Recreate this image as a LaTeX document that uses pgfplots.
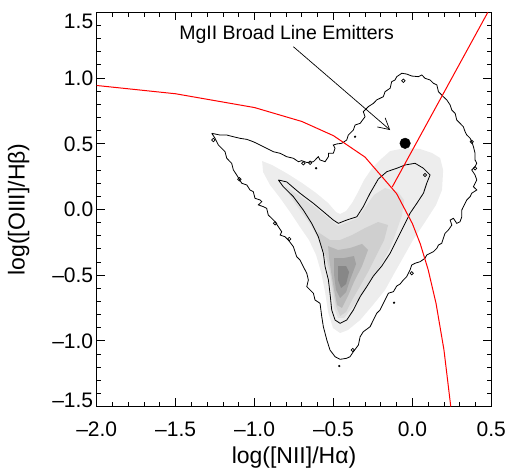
\documentclass[border=0pt]{standalone}
\usepackage{pgfplots}
\pgfplotsset{compat=1.18}
\usepackage{fontspec}
\setmainfont{Liberation Sans}
\usetikzlibrary{arrows.meta}
\definecolor{g1}{gray}{0.93}
\definecolor{g2}{gray}{0.875}
\definecolor{g3}{gray}{0.81}
\definecolor{g4}{gray}{0.72}
\definecolor{g5}{gray}{0.63}
\definecolor{g6}{gray}{0.53}
\begin{document}
\begin{tikzpicture}
\begin{axis}[
  at={(0,0)}, anchor=south west,
  scale only axis, width=394.6bp, height=394.2bp,
  xmin=-2, xmax=0.5, ymin=-1.5, ymax=1.5,
  axis line style={line width=0.9bp},
  xtick={-2,-1.5,-1,-0.5,0,0.5},
  xticklabels={–2.0,–1.5,–1.0,–0.5,0.0,0.5},
  ytick={-1.5,-1,-0.5,0,0.5,1,1.5},
  yticklabels={\raisebox{6.5bp}{–1.5},–1.0,–0.5,0.0,0.5,1.0,\raisebox{-8.4bp}{1.5}},
  minor x tick num=4, minor y tick num=4,
  tick align=inside,
  major tick length=8bp, minor tick length=4.5bp,
  every tick/.style={black, line width=0.8bp},
  ticklabel style={font=\fontsize{21bp}{25bp}\selectfont},
  xticklabel style={anchor=base, yshift=-30.2bp},
  yticklabel style={anchor=base east, yshift=-7.5bp},
  xlabel={log([NII]/Hα)}, ylabel={log([OIII]/Hβ)},
  every axis x label/.style={at={(axis description cs:0.5,-0.094)}, anchor=north, font=\fontsize{23bp}{27bp}\selectfont},
  every axis y label/.style={at={(axis description cs:-0.1614,0.5)}, rotate=90, anchor=south, font=\fontsize{23bp}{27bp}\selectfont},
]
% grey-scale density (nested levels)
\addplot[draw=none, fill=g1] coordinates {
(-0.952,0.368) (-0.889,0.338) (-0.788,0.269) (-0.699,0.201) (-0.610,0.125) (-0.534,0.049)
(-0.484,-0.020) (-0.458,-0.035) (-0.420,-0.012) (-0.382,0.049) (-0.344,0.132) (-0.306,0.224)
(-0.255,0.315) (-0.205,0.376) (-0.141,0.444) (-0.046,0.467) (0.049,0.460) (0.125,0.429)
(0.176,0.391) (0.195,0.300) (0.188,0.148) (0.150,0.034) (0.080,-0.096) (0.004,-0.233)
(-0.053,-0.355) (-0.110,-0.476) (-0.173,-0.613) (-0.255,-0.735) (-0.331,-0.842) (-0.408,-0.918)
(-0.458,-0.941) (-0.503,-0.903) (-0.534,-0.781) (-0.553,-0.629) (-0.579,-0.476) (-0.610,-0.347)
(-0.655,-0.233) (-0.712,-0.134) (-0.775,-0.020) (-0.838,0.087) (-0.902,0.186) (-0.946,0.285)};
\addplot[draw=none, fill=g2] coordinates {
(-0.807,0.178) (-0.712,0.102) (-0.617,0.018) (-0.534,-0.065) (-0.471,-0.126) (-0.408,-0.096)
(-0.344,-0.065) (-0.293,0.026) (-0.243,0.110) (-0.173,0.163) (-0.091,0.132) (-0.053,0.072)
(-0.065,-0.043) (-0.103,-0.172) (-0.141,-0.294) (-0.192,-0.408) (-0.255,-0.522) (-0.319,-0.636)
(-0.382,-0.750) (-0.433,-0.826) (-0.471,-0.826) (-0.496,-0.750) (-0.515,-0.613) (-0.534,-0.476)
(-0.560,-0.339) (-0.598,-0.218) (-0.648,-0.111) (-0.712,-0.005) (-0.775,0.102)};
\addplot[draw=none, fill=g3] coordinates {
(-0.598,-0.172) (-0.522,-0.233) (-0.458,-0.233) (-0.382,-0.195) (-0.300,-0.142) (-0.217,-0.096)
(-0.154,-0.119) (-0.179,-0.233) (-0.230,-0.355) (-0.281,-0.476) (-0.331,-0.583) (-0.382,-0.689)
(-0.420,-0.781) (-0.458,-0.811) (-0.484,-0.735) (-0.503,-0.613) (-0.522,-0.476) (-0.547,-0.355)
(-0.585,-0.248)};
\addplot[draw=none, fill=g4] coordinates {
(-0.534,-0.279) (-0.471,-0.309) (-0.395,-0.294) (-0.319,-0.263) (-0.281,-0.309) (-0.319,-0.431)
(-0.370,-0.552) (-0.408,-0.659) (-0.446,-0.750) (-0.477,-0.728) (-0.496,-0.613) (-0.515,-0.476)
(-0.528,-0.370)};
\addplot[draw=none, fill=g5] coordinates {
(-0.496,-0.370) (-0.433,-0.370) (-0.370,-0.355) (-0.357,-0.416) (-0.395,-0.537) (-0.420,-0.629)
(-0.458,-0.674) (-0.484,-0.613) (-0.496,-0.499)};
\addplot[draw=none, fill=g6] coordinates {
(-0.471,-0.431) (-0.420,-0.431) (-0.401,-0.476) (-0.420,-0.568) (-0.452,-0.598) (-0.471,-0.537)};
% outer contour
\addplot[black, line width=0.8bp] coordinates {
(-1.271,0.579) (-1.219,0.566) (-1.176,0.566) (-1.134,0.553) (-1.092,0.541) (-1.049,0.533)
(-1.008,0.515) (-0.965,0.490) (-0.923,0.465) (-0.881,0.439) (-0.838,0.427) (-0.796,0.401)
(-0.754,0.389) (-0.722,0.363) (-0.701,0.371) (-0.669,0.357) (-0.627,0.363) (-0.596,0.401)
(-0.585,0.376) (-0.553,0.363) (-0.532,0.401) (-0.532,0.427) (-0.501,0.427) (-0.490,0.465)
(-0.501,0.490) (-0.479,0.498) (-0.447,0.503) (-0.416,0.528) (-0.406,0.566) (-0.374,0.604)
(-0.363,0.642) (-0.331,0.655) (-0.300,0.705) (-0.311,0.744) (-0.279,0.782) (-0.247,0.807)
(-0.226,0.833) (-0.184,0.858) (-0.173,0.896) (-0.141,0.922) (-0.131,0.972) (-0.110,0.985)
(-0.099,1.010) (-0.067,1.036) (-0.036,1.030) (-0.004,1.015) (0.038,1.010) (0.060,1.023)
(0.080,0.998) (0.112,0.985) (0.133,0.960) (0.155,0.947) (0.165,0.896) (0.196,0.858)
(0.218,0.833) (0.239,0.795) (0.250,0.756) (0.271,0.731) (0.281,0.680) (0.302,0.655)
(0.323,0.629) (0.334,0.591) (0.345,0.566) (0.366,0.541) (0.376,0.515) (0.387,0.477)
(0.397,0.427) (0.397,0.376) (0.408,0.351) (0.397,0.325) (0.376,0.300) (0.397,0.262)
(0.408,0.224) (0.387,0.173) (0.408,0.148) (0.376,0.123) (0.366,0.097) (0.345,0.072)
(0.334,0.046) (0.313,-0.005) (0.313,-0.056) (0.302,-0.094) (0.281,-0.106) (0.260,-0.068)
(0.239,-0.081) (0.250,-0.119) (0.228,-0.157) (0.207,-0.182) (0.196,-0.220) (0.186,-0.258)
(0.165,-0.271) (0.155,-0.296) (0.133,-0.322) (0.091,-0.347) (0.080,-0.372) (0.049,-0.398)
(0.017,-0.410) (-0.004,-0.423) (-0.015,-0.461) (-0.036,-0.512) (-0.057,-0.537) (-0.078,-0.568)
(-0.099,-0.583) (-0.120,-0.626) (-0.152,-0.638) (-0.173,-0.689) (-0.184,-0.715) (-0.205,-0.766)
(-0.226,-0.791) (-0.247,-0.842) (-0.268,-0.893) (-0.311,-0.931) (-0.331,-0.969) (-0.342,-1.032)
(-0.374,-1.083) (-0.395,-1.121) (-0.416,-1.133) (-0.458,-1.141) (-0.490,-1.121) (-0.522,-1.070)
(-0.542,-0.994) (-0.564,-0.893) (-0.574,-0.817) (-0.585,-0.715) (-0.617,-0.689) (-0.627,-0.638)
(-0.669,-0.588) (-0.659,-0.537) (-0.669,-0.486) (-0.691,-0.436) (-0.712,-0.385) (-0.733,-0.360)
(-0.754,-0.284) (-0.786,-0.233) (-0.807,-0.208) (-0.838,-0.195) (-0.828,-0.170) (-0.849,-0.132)
(-0.870,-0.094) (-0.891,-0.068) (-0.913,-0.043) (-0.923,0.008) (-0.944,0.021) (-0.976,0.034)
(-0.954,0.059) (-0.965,0.072) (-0.997,0.084) (-1.008,0.135) (-1.029,0.148) (-1.049,0.186)
(-1.081,0.199) (-1.113,0.262) (-1.134,0.300) (-1.145,0.351) (-1.176,0.389) (-1.187,0.439)
(-1.229,0.490) (-1.250,0.541) (-1.271,0.579)};
% small closed contour loops and specks
\addplot[only marks, mark=o, mark size=1.7bp, mark options={line width=0.7bp}] coordinates {
(-1.261,0.528) (-1.096,0.229) (-0.870,-0.106) (-0.780,-0.225) (-0.691,0.351) (-0.648,0.355)
(0.080,0.262) (0.397,0.313) (-0.004,-0.486) (-0.378,-1.070) (0.376,0.515) (-0.057,0.979)};
\addplot[only marks, mark=*, mark size=0.9bp] coordinates {
(-0.610,0.313) (-0.363,0.553) (-0.116,-0.710) (-0.463,-1.192)};
% inner contour
\addplot[black, line width=0.8bp] coordinates {
(-0.849,0.224) (-0.796,0.209) (-0.712,0.123) (-0.627,0.046) (-0.564,-0.017) (-0.501,-0.081)
(-0.469,-0.106) (-0.416,-0.081) (-0.352,-0.056) (-0.311,0.021) (-0.268,0.123) (-0.216,0.231)
(-0.162,0.287) (-0.099,0.313) (-0.046,0.338) (0.017,0.351) (0.070,0.313) (0.112,0.262)
(0.091,0.199) (0.070,0.123) (0.028,0.046) (-0.015,-0.030) (-0.057,-0.132) (-0.099,-0.233)
(-0.141,-0.334) (-0.194,-0.431) (-0.247,-0.507) (-0.289,-0.588) (-0.331,-0.664) (-0.374,-0.766)
(-0.416,-0.842) (-0.458,-0.867) (-0.490,-0.842) (-0.511,-0.766) (-0.522,-0.638) (-0.532,-0.537)
(-0.553,-0.436) (-0.564,-0.334) (-0.596,-0.208) (-0.638,-0.106) (-0.691,-0.005) (-0.754,0.097)
(-0.818,0.173) (-0.849,0.224)};
% demarcation lines
\addplot[red, line width=1bp] coordinates {
(-2.0,0.943) (-1.5,0.880) (-1.0,0.775) (-0.7,0.669) (-0.5,0.561) (-0.3,0.398) (-0.1,0.120)
(0.0,-0.108) (0.05,-0.262) (0.1,-0.459) (0.15,-0.716) (0.2,-1.069) (0.2432,-1.500)};
\addplot[red, line width=1bp] coordinates {(-0.128,0.170) (0.478,1.500)};
% MgII broad line emitters
\addplot[only marks, mark=*, mark size=5.3bp, black] coordinates {(-0.046,0.503)};
\draw[-{Straight Barb[length=11bp,width=12bp]}, line width=0.7bp] (axis cs:-0.754,1.238) -- (axis cs:-0.141,0.604);
\node[font=\fontsize{19.5bp}{23bp}\selectfont] at (axis cs:-0.797,1.334) {MgII Broad Line Emitters};
\end{axis}
\pgfresetboundingbox
\path (-96.7bp,-61.5bp) rectangle (412.3bp,406.5bp);
\end{tikzpicture}
\end{document}
